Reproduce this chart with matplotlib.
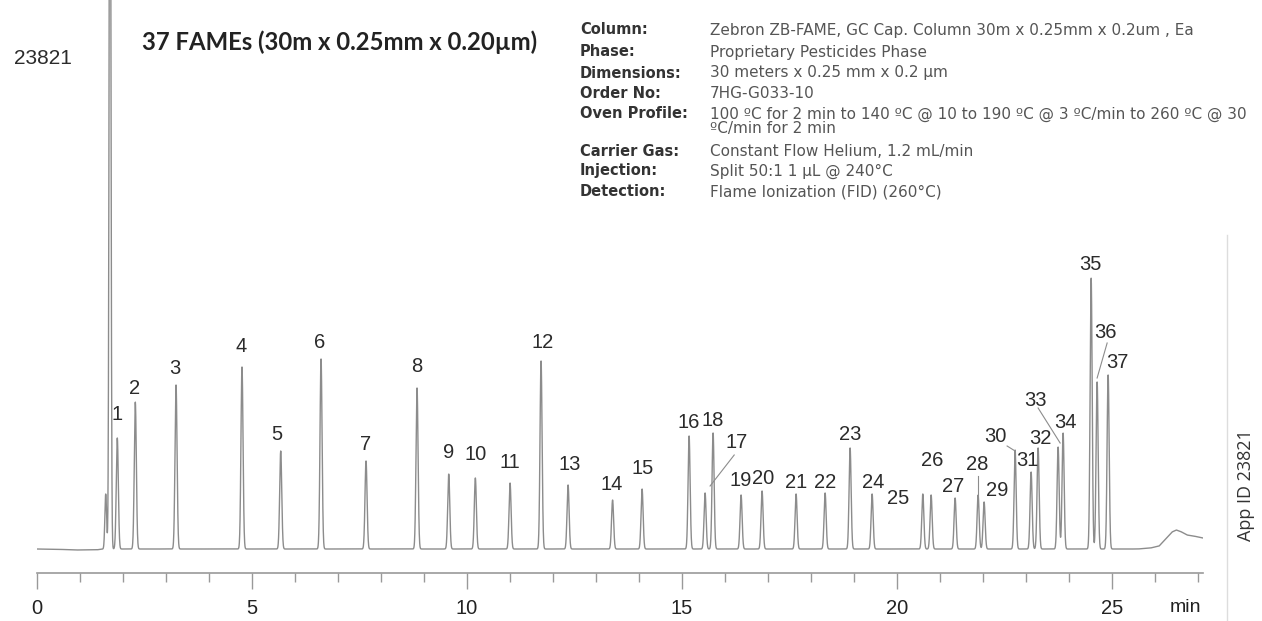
import numpy as np
import matplotlib
matplotlib.use("Agg")
import matplotlib.pyplot as plt
from matplotlib.ticker import MultipleLocator

# -----------------------------
# Data
# -----------------------------

# solvent front (two peaks, the big one runs off the top)
solvent_times = [1.605, 1.705]
solvent_heights = [55, 900]

peak_labels = [str(i) for i in range(1, 38)]
peak_times = [1.874, 2.293, 3.240, 4.774, 5.674, 6.612, 7.658, 8.844, 9.581, 10.200,
              11.007, 11.728, 12.356, 13.391, 14.077, 15.170, 15.542, 15.728, 16.379, 16.867,
              17.658, 18.333, 18.914, 19.426, 20.605, 20.798, 21.356, 21.891, 22.030, 22.751,
              23.123, 23.286, 23.751, 23.867, 24.519, 24.658, 24.914]
peak_heights = [111, 147, 164, 182, 98, 190, 88, 161, 75, 71,
                66, 188, 64, 49, 60, 113, 56, 116, 54, 58,
                55, 56, 101, 55, 55, 54, 51, 54, 47, 99,
                77, 101, 102, 116, 271, 167, 174]

# where the peak numbers sit (time, signal)
label_times = [1.867, 2.286, 3.216, 4.751, 5.588, 6.588, 7.658, 8.844, 9.588, 10.216,
               11.007, 11.774, 12.402, 13.379, 14.100, 15.170, 16.286, 15.728, 16.379, 16.891,
               17.658, 18.333, 18.914, 19.449, 20.030, 20.821, 21.309, 21.867, 22.333, 22.286,
               23.030, 23.333, 23.216, 23.914, 24.495, 24.844, 25.121]
label_levels = [134, 161, 180, 202, 114, 206, 104, 182, 96, 94,
                86, 206, 84, 64, 81, 126, 106, 128, 69, 71,
                67, 67, 114, 67, 50, 88, 62, 84, 59, 113,
                88, 111, 149, 127, 284, 216, 186]

# leader lines from a label to its peak: (t0, y0, t1, y1)
leaders = [(16.219, 94, 15.658, 63),
           (21.891, 73, 21.891, 54),
           (22.565, 103, 22.751, 98),
           (23.286, 141, 23.798, 106),
           (24.891, 206, 24.658, 171)]

# baseline drift incl. the late column bleed hump
baseline_t = [0.0, 0.5, 0.9, 1.4, 1.55, 25.6, 25.9, 26.1, 26.25, 26.4, 26.5,
              26.6, 26.75, 26.9, 27.12]
baseline_y = [0.0, -0.3, -1.0, -0.8, 0.0, 0.0, 1.0, 3.0, 10.0, 17.0, 19.0,
              17.5, 14.0, 13.0, 11.0]

info_rows = [
    ("Column:", "Zebron ZB-FAME, GC Cap. Column 30m x 0.25mm x 0.2um , Ea"),
    ("Phase:", "Proprietary Pesticides Phase"),
    ("Dimensions:", "30 meters x 0.25 mm x 0.2 µm"),
    ("Order No:", "7HG-G033-10"),
    ("Oven Profile:", "100 ºC for 2 min to 140 ºC @ 10 to 190 ºC @ 3 ºC/min to 260 ºC @ 30\nºC/min for 2 min"),
    ("Carrier Gas:", "Constant Flow Helium, 1.2 mL/min"),
    ("Injection:", "Split 50:1 1 µL @ 240°C"),
    ("Detection:", "Flame Ionization (FID) (260°C)"),
]
info_y = [30, 52, 73, 93, 114, 151, 171, 192]

# -----------------------------
# Figure
# -----------------------------

W, H = 1262, 621
fig = plt.figure(figsize=(W / 100, H / 100), dpi=100)
fig.patch.set_facecolor("white")


def px(x, y):
    return x / W, 1 - y / H


x0_px, x1_px, axis_px, base_px = 36.7, 1203, 573, 549
ax = fig.add_axes([x0_px / W, (H - axis_px) / H, (x1_px - x0_px) / W, axis_px / H])
ax.set_xlim(0, 27.12)
ax.set_ylim(-(axis_px - base_px), base_px)

# build the trace from the peak table
t = np.arange(0, 27.12, 0.002)
signal = np.interp(t, baseline_t, baseline_y)
for tr, h in zip(solvent_times, solvent_heights):
    signal += h * np.exp(-0.5 * ((t - tr) / 0.02) ** 2)
for tr, h in zip(peak_times, peak_heights):
    signal += h * np.exp(-0.5 * ((t - tr) / 0.024) ** 2)

ax.plot(t, signal, color="#8c8c8c", lw=1.0)

for lab, tx, ty in zip(peak_labels, label_times, label_levels):
    ax.text(tx, ty, lab, ha="center", va="center", fontsize=14.5,
            family="Liberation Sans", color="#2b2b2b")

for t0, y0, t1, y1 in leaders:
    ax.plot([t0, t1], [y0, y1], color="#8c8c8c", lw=0.8)

# axis styling
for side in ["left", "right", "top"]:
    ax.spines[side].set_visible(False)
ax.spines["bottom"].set_color("#999999")
ax.spines["bottom"].set_linewidth(1.2)
ax.set_yticks([])
ax.xaxis.set_major_locator(MultipleLocator(5))
ax.xaxis.set_minor_locator(MultipleLocator(1))
ax.set_xticks([0, 5, 10, 15, 20, 25])
ax.tick_params(axis="x", which="major", length=11.5, width=1.0, color="#999999",
               labelsize=14.5, pad=7, labelcolor="#222222")
ax.tick_params(axis="x", which="minor", length=6.5, width=1.0, color="#999999")
for lbl in ax.get_xticklabels():
    lbl.set_family("Liberation Sans")

fig.text(*px(1185, 607), "min", ha="center", va="center", fontsize=14,
         family="Liberation Sans", color="#222222")

# header texts
fig.text(*px(43, 58), "23821", ha="center", va="center", fontsize=15,
         family="Liberation Sans", color="#2b2b2b")
fig.text(*px(142, 42), "37 FAMEs (30m x 0.25mm x 0.20µm)", ha="left", va="center",
         fontsize=17.2, family="Lato", weight="bold", color="#222222")

for (name, value), y in zip(info_rows, info_y):
    fig.text(*px(580, y), name, ha="left", va="center", fontsize=10.5,
             family="DejaVu Sans", weight="bold", color="#333333")
    for k, line in enumerate(value.split("\n")):
        fig.text(*px(710, y + 14 * k), line, ha="left", va="center",
                 fontsize=11, family="DejaVu Sans", color="#555555")

# right side frame and app id
fig.add_artist(plt.Line2D([1227 / W, 1227 / W], [0, 1 - 235 / H],
                          color="#dddddd", lw=1.0))
fig.text(*px(1246, 485), "App ID 23821", ha="center", va="center", rotation=90,
         fontsize=13, family="Open Sans", color="#333333")

fig.savefig("out.png", dpi=100)
